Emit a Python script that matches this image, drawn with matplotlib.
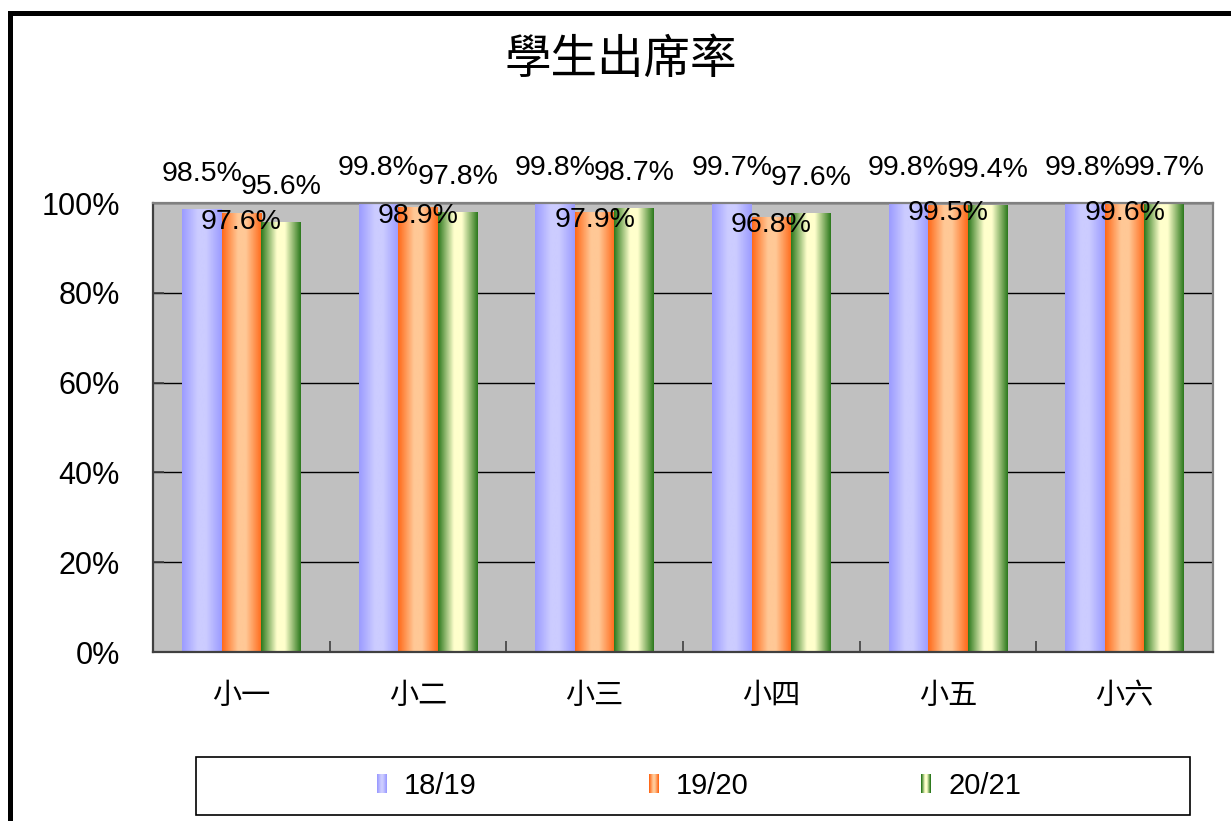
import numpy as np
import matplotlib
matplotlib.use("Agg")
import matplotlib.pyplot as plt
import matplotlib.patches as mpatches
from matplotlib.lines import Line2D
from matplotlib.legend_handler import HandlerBase
from matplotlib.colors import to_rgb

plt.rcParams['font.family'] = ['Liberation Sans', 'Noto Sans CJK TC', 'DejaVu Sans']

# data
categories = ['小一', '小二', '小三', '小四', '小五', '小六']
series_names = ['18/19', '19/20', '20/21']
rate_1819 = [98.5, 99.8, 99.8, 99.7, 99.8, 99.8]
rate_1920 = [97.6, 98.9, 97.9, 96.8, 99.5, 99.6]
rate_2021 = [95.6, 97.8, 98.7, 97.6, 99.4, 99.7]
yticks = [0, 20, 40, 60, 80, 100]

# gradient colours (edge, centre) per series
grad_colors = [
    ('#9c9cff', '#ccccff'),
    ('#ff6a1a', '#ffc896'),
    ('#2e7a1e', '#ffffcc'),
]
# label offsets in pixels (Excel placed them oddly)
label_offsets = [36, -8, 36]


def gradient_row(edge, center, n=64):
    e = np.array(to_rgb(edge))
    c = np.array(to_rgb(center))
    t = np.linspace(0, 1, n)
    f = np.clip(1.25 * (1 - np.abs(2 * t - 1)), 0, 1)
    return e[None, :] + (c - e)[None, :] * f[:, None]


class GradHandler(HandlerBase):
    def __init__(self, edge, center):
        super().__init__()
        self.edge = edge
        self.center = center

    def create_artists(self, legend, orig_handle, xdescent, ydescent,
                       width, height, fontsize, trans):
        n = 10
        cols = gradient_row(self.edge, self.center, n)
        arts = []
        for i in range(n):
            r = mpatches.Rectangle((-xdescent + i * width / n, -ydescent),
                                   width / n * 1.05, height,
                                   facecolor=cols[i], edgecolor='none',
                                   transform=trans)
            arts.append(r)
        return arts


W, H = 1231, 821
fig = plt.figure(figsize=(W / 100, H / 100), dpi=100)
ax = fig.add_axes([153 / W, 1 - 652 / H, (1213 - 153) / W, (652 - 203) / H])
ax.set_facecolor('#c0c0c0')

x = np.arange(len(categories))
bw = 0.224
all_series = [rate_1819, rate_1920, rate_2021]

for k, vals in enumerate(all_series):
    bars = ax.bar(x + (k - 1) * bw, vals, bw, facecolor='none',
                  edgecolor='none', zorder=2)
    row = gradient_row(*grad_colors[k])
    for rect, v in zip(bars, vals):
        x0 = rect.get_x()
        ax.imshow(row[None, :, :], extent=[x0, x0 + rect.get_width(), 0, rect.get_height()],
                  aspect='auto', interpolation='bilinear', zorder=2)
        ax.annotate(f'{v:.1f}%', (x0 + rect.get_width() / 2, v),
                    xytext=(0, label_offsets[k]), textcoords='offset pixels',
                    ha='center', va='center', fontsize=20.5, zorder=5,
                    annotation_clip=False)

ax.set_xlim(-0.5, len(categories) - 0.5)
ax.set_ylim(0, 100)

ax.set_yticks(yticks)
ax.set_yticklabels([f'{t}%' for t in yticks], fontsize=22)
ax.yaxis.grid(True, color='black', linewidth=1)
ax.set_axisbelow(True)
ax.tick_params(axis='y', direction='in', length=8, width=1.2, color='#404040', pad=24)

ax.set_xticks(np.arange(len(categories) + 1) - 0.5)
ax.set_xticklabels([])
ax.set_xticks(x, minor=True)
ax.set_xticklabels(categories, minor=True, fontsize=21, family=['Noto Sans CJK TC'])
ax.tick_params(axis='x', which='major', direction='in', length=8, width=1.2, color='#404040')
ax.tick_params(axis='x', which='minor', length=0, pad=21)

for s in ['left', 'bottom']:
    ax.spines[s].set_color('#404040')
    ax.spines[s].set_linewidth(1.6)
for s in ['top', 'right']:
    ax.spines[s].set_color('#808080')
    ax.spines[s].set_linewidth(1.6)

# title
fig.text(621 / W, 1 - 60 / H, '學生出席率', ha='center', va='center',
         fontsize=33.5, family=['Noto Sans CJK TC'])

# legend
handles = [mpatches.Patch(label=n) for n in series_names]
hmap = {h: GradHandler(*grad_colors[i]) for i, h in enumerate(handles)}
fig.legend(handles=handles, labels=series_names, handler_map=hmap,
           loc='center', bbox_to_anchor=(699 / W, 1 - 786 / H), ncol=3,
           frameon=False, fontsize=21, handlelength=0.33, handleheight=0.65,
           handletextpad=0.6, columnspacing=5.9)
fig.add_artist(mpatches.Rectangle((196 / W, 1 - 815 / H), (1190 - 196) / W, 58 / H,
                                  transform=fig.transFigure, fill=False,
                                  edgecolor='black', linewidth=1.2))

# outer frame (left + top)
fig.add_artist(Line2D([9.5 / W, 9.5 / W, 1], [0, 1 - 13.5 / H, 1 - 13.5 / H],
                      transform=fig.transFigure, color='black', linewidth=3.6,
                      solid_joinstyle='miter'))

fig.savefig('out.png', dpi=100)
